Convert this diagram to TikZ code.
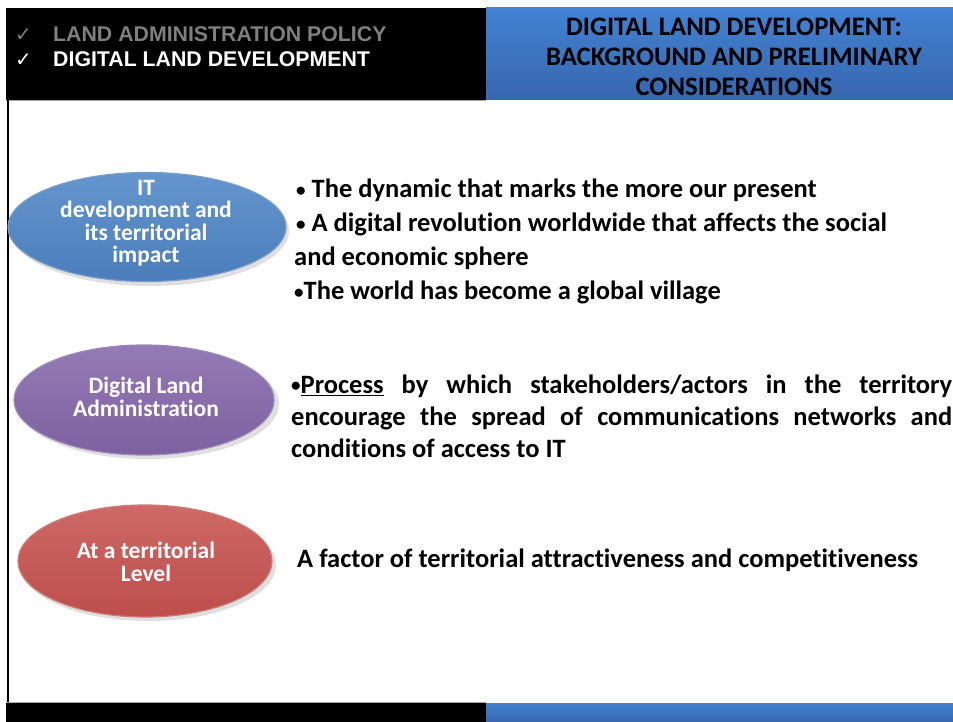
\documentclass[tikz,border=0pt]{standalone}
\usepackage{fontspec}
\setmainfont{Carlito}[Ligatures=NoCommon]
\newfontfamily\arialfont{Liberation Sans}
\newfontfamily\symfont{DejaVu Sans}
\usetikzlibrary{shapes.geometric,shadings}
\definecolor{hdrblueT}{HTML}{4282D2}
\definecolor{hdrblueB}{HTML}{3766AE}
\definecolor{ovblue}{HTML}{4A7DBA}
\definecolor{ovbluel}{HTML}{6595CD}
\definecolor{ovpurple}{HTML}{7D60A0}
\definecolor{ovpurplel}{HTML}{957BB6}
\definecolor{ovred}{HTML}{BD4E4B}
\definecolor{ovredl}{HTML}{CD6966}
\definecolor{greytxt}{HTML}{7F7F7F}
\newcommand{\smbul}{\raisebox{1.5pt}{\fontsize{19}{20}\selectfont•}}
\tikzset{
  oval/.style={ellipse, inner sep=0pt, draw=#1!75!white, line width=1.2pt},
  ovaltext/.style={inner sep=0pt, font=\bfseries\fontsize{23.5}{22.5}\selectfont, text=white, align=center},
  body/.style={anchor=north west, inner sep=0pt, font=\bfseries\fontsize{26.5}{34}\selectfont, align=left},
  hdr/.style={anchor=west, inner sep=0pt, font=\arialfont\bfseries\fontsize{21.3}{24}\selectfont},
  chk/.style={anchor=west, inner sep=0pt, font=\symfont\fontsize{20}{22}\selectfont},
}
\begin{document}
\begin{tikzpicture}[x=1pt,y=-1pt]
\useasboundingbox (0,0) rectangle (953,722);
\fill[white] (0,0) rectangle (953,722);
% top bars
\fill[black] (6,8) rectangle (486,100);
\shade[top color=hdrblueT, bottom color=hdrblueB] (486,8) rectangle (953,100);
\draw[gray!70, line width=0.8pt] (6,100.5) -- (486,100.5);
% left frame line
\draw[black, line width=1.6pt] (8,100) -- (8,702);
% bottom bars
\draw[gray!70, line width=0.8pt] (6,702.5) -- (486,702.5);
\fill[black] (6,703) rectangle (486,722);
\shade[top color=hdrblueT, bottom color=hdrblueB] (486,703) rectangle (953,722);
% header left
\node[chk, text=greytxt] (c1) at (15,35) {✓};
\node[hdr, text=greytxt] (h1) at (53,34) {LAND ADMINISTRATION POLICY};
\node[chk, text=white] (c2) at (15,60) {✓};
\node[hdr, text=white] (h2) at (53,59) {DIGITAL LAND DEVELOPMENT};
% header right
\node[inner sep=0pt, align=center, font=\bfseries\fontsize{26.7}{30}\selectfont] (title) at (734,57)
  {DIGITAL LAND DEVELOPMENT:\\BACKGROUND AND PRELIMINARY\\CONSIDERATIONS};
% ovals shadows
\fill[gray!25] (150,231) ellipse (139 and 55);
\fill[gray!25] (148,404) ellipse (131 and 55);
\fill[gray!25] (148,565) ellipse (128 and 56);
% ovals
\node[oval=ovblue, minimum width=278pt, minimum height=109pt, top color=ovbluel, bottom color=ovblue] (o1) at (147,227) {};
\node[oval=ovpurple, minimum width=260pt, minimum height=110pt, top color=ovpurplel, bottom color=ovpurple] (o2) at (144,400) {};
\node[oval=ovred, minimum width=254pt, minimum height=112pt, top color=ovredl, bottom color=ovred] (o3) at (145,561) {};
\node[ovaltext] (l1) at (146,223) {IT\\development and\\its territorial\\impact};
\node[ovaltext] (l2) at (146,397) {Digital Land\\Administration};
\node[ovaltext] (l3) at (146,562) {At a territorial\\Level};
% body texts
\node[body] (t1) at (294,179)
  {\hspace*{2pt}\smbul{} The dynamic that marks the more our present\\
   \hspace*{2pt}\smbul{} A digital revolution worldwide that affects the social\\
   and economic sphere\\
   \smbul The world has become a global village};
\node[body, text width=661pt, align=justify, font=\bfseries\fontsize{26.5}{32}\selectfont] (t2) at (291,374.5)
  {\smbul\underline{Process} by which stakeholders/actors in the territory\linebreak
   encourage the spread of communications networks and\linebreak
   conditions of access to IT};
\node[body, anchor=west] (t3) at (297,560)
  {A factor of territorial attractiveness and competitiveness};
\end{tikzpicture}
\end{document}
